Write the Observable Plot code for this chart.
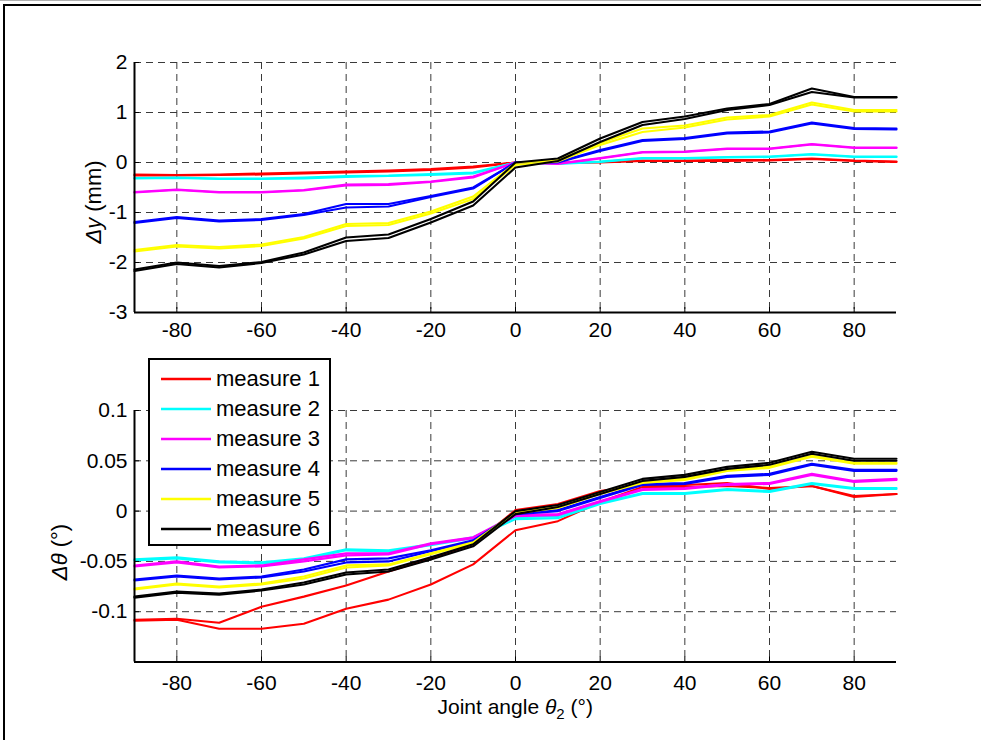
<!DOCTYPE html>
<html>
<head>
<meta charset="utf-8">
<script src="https://cdn.jsdelivr.net/npm/d3@7"></script>
<script src="https://cdn.jsdelivr.net/npm/@observablehq/plot@0.6"></script>
<style>
  html, body { margin: 0; padding: 0; background: #fff; width: 981px; height: 740px; overflow: hidden; }
  #root { position: relative; width: 981px; height: 740px; overflow: hidden; font-family: "Liberation Sans", Arial, sans-serif; }
  .abs { position: absolute; }
  #topline { left: 0; top: 0; width: 981px; height: 1px; background: #b0b0b0; }
  #frameTop { left: 3px; top: 4px; width: 978px; height: 2px; background: #000; }
  #frameLeft { left: 3px; top: 4px; width: 2px; height: 736px; background: #000; }
  .ylab { font-size: 22px; white-space: nowrap; transform-origin: center center; }
  #legend { left: 148px; top: 358px; width: 179px; height: 184px; border: 2px solid #000; background: #fff; }
  .lrow { position: absolute; left: 0; height: 30px; width: 179px; }
  .lrow svg { position: absolute; left: 10px; top: 0; }
  .lrow span { position: absolute; left: 66px; top: 2px; font-size: 22px; white-space: nowrap; }
</style>
</head>
<body>
<div id="root">
  <div id="topline" class="abs"></div>
  <div id="frameTop" class="abs"></div>
  <div id="frameLeft" class="abs"></div>
  <div id="topPlot" class="abs" style="left:0;top:0;"></div>
  <div id="botPlot" class="abs" style="left:0;top:350px;"></div>
  <div id="legend" class="abs"></div>
  <div id="ylabTop" class="abs ylab"><i>&Delta;y</i> (mm)</div>
  <div id="ylabBot" class="abs ylab"><i>&Delta;&theta;</i> (&deg;)</div>
  <div id="xlab" class="abs" style="font-size:21px;line-height:22px;white-space:nowrap;">Joint angle <i>&theta;</i><sub style="font-size:15px;">2</sub> (&deg;)</div>
</div>
<script>
// ---- data ----
const theta = [-90,-80,-70,-60,-50,-40,-30,-20,-10,0,10,20,30,40,50,60,70,80,90];
const measures = ["measure 1","measure 2","measure 3","measure 4","measure 5","measure 6"];
const colors = ["#ff0000","#00ffff","#ff00ff","#0000ff","#ffff00","#000000"];
const xTicks = [-80,-60,-40,-20,0,20,40,60,80];
const xDomain = [-90, 90];
const yTicksTop = [-3,-2,-1,0,1,2];
const yDomainTop = [-3, 2];
const yTicksBot = [-0.1,-0.05,0,0.05,0.1];
const yDomainBot = [-0.15, 0.1];

// Δy (mm), two runs per measure
const dy1a = [-0.26,-0.26,-0.25,-0.24,-0.22,-0.2,-0.18,-0.15,-0.1,0,-0.01,0,0.03,0.03,0.03,0.04,0.07,0.03,0.01];
const dy1b = [-0.24,-0.25,-0.24,-0.22,-0.2,-0.18,-0.16,-0.13,-0.08,0,0,0.01,0.04,0.04,0.05,0.05,0.08,0.04,0.02];
const dy2a = [-0.32,-0.31,-0.33,-0.33,-0.32,-0.29,-0.27,-0.25,-0.22,0,-0.03,0.01,0.08,0.08,0.1,0.11,0.16,0.11,0.11];
const dy2b = [-0.31,-0.3,-0.32,-0.32,-0.3,-0.27,-0.26,-0.23,-0.2,0,-0.02,0.02,0.09,0.09,0.11,0.12,0.17,0.12,0.12];
const dy3a = [-0.6,-0.55,-0.6,-0.6,-0.56,-0.46,-0.45,-0.39,-0.3,0,-0.03,0.08,0.2,0.21,0.27,0.27,0.36,0.29,0.29];
const dy3b = [-0.59,-0.54,-0.59,-0.59,-0.55,-0.44,-0.43,-0.38,-0.28,0,-0.02,0.09,0.21,0.22,0.28,0.28,0.37,0.3,0.3];
const dy4a = [-1.21,-1.11,-1.18,-1.15,-1.05,-0.9,-0.88,-0.69,-0.52,0,0,0.23,0.43,0.47,0.58,0.6,0.78,0.67,0.66];
const dy4b = [-1.19,-1.09,-1.16,-1.13,-1.03,-0.83,-0.83,-0.67,-0.5,0,0.01,0.25,0.45,0.49,0.6,0.62,0.8,0.69,0.68];
const dy5a = [-1.78,-1.68,-1.72,-1.67,-1.52,-1.27,-1.25,-1.02,-0.73,-0.05,0.02,0.35,0.61,0.7,0.86,0.92,1.16,1.02,1.02];
const dy5b = [-1.75,-1.65,-1.69,-1.64,-1.49,-1.23,-1.21,-0.98,-0.68,-0.01,0.05,0.39,0.68,0.74,0.9,0.95,1.2,1.05,1.05];
const dy6a = [-2.17,-2.03,-2.1,-2.01,-1.84,-1.57,-1.51,-1.2,-0.86,-0.1,0.03,0.41,0.75,0.87,1.05,1.15,1.41,1.3,1.3];
const dy6b = [-2.14,-2.0,-2.07,-1.99,-1.8,-1.5,-1.44,-1.13,-0.78,0,0.08,0.48,0.81,0.92,1.08,1.17,1.48,1.31,1.31];

// Δθ (°), two runs per measure
const dt1a = [-0.108,-0.107,-0.111,-0.095,-0.085,-0.074,-0.06,-0.047,-0.033,0.001,0.007,0.02,0.026,0.026,0.028,0.022,0.025,0.015,0.017];
const dt1b = [-0.109,-0.108,-0.117,-0.117,-0.112,-0.097,-0.088,-0.073,-0.053,-0.019,-0.01,0.009,0.024,0.024,0.025,0.023,0.025,0.014,0.017];
const dt2a = [-0.049,-0.047,-0.051,-0.052,-0.048,-0.039,-0.04,-0.034,-0.027,-0.008,-0.007,0.007,0.017,0.017,0.021,0.019,0.027,0.022,0.022];
const dt2b = [-0.048,-0.046,-0.05,-0.051,-0.047,-0.038,-0.039,-0.033,-0.026,-0.006,-0.005,0.008,0.018,0.018,0.022,0.02,0.028,0.023,0.023];
const dt3a = [-0.055,-0.051,-0.056,-0.055,-0.05,-0.044,-0.043,-0.033,-0.027,-0.005,-0.004,0.009,0.021,0.022,0.026,0.027,0.036,0.029,0.031];
const dt3b = [-0.054,-0.05,-0.055,-0.054,-0.048,-0.042,-0.042,-0.032,-0.026,-0.004,-0.003,0.01,0.022,0.023,0.027,0.028,0.037,0.03,0.032];
const dt4a = [-0.069,-0.065,-0.068,-0.066,-0.06,-0.051,-0.05,-0.04,-0.03,-0.003,0,0.013,0.026,0.027,0.034,0.036,0.046,0.04,0.04];
const dt4b = [-0.068,-0.064,-0.067,-0.065,-0.058,-0.048,-0.047,-0.039,-0.029,-0.002,0.001,0.014,0.027,0.028,0.035,0.037,0.047,0.041,0.041];
const dt5a = [-0.078,-0.073,-0.076,-0.073,-0.067,-0.056,-0.054,-0.043,-0.032,-0.002,0.003,0.017,0.028,0.031,0.04,0.043,0.054,0.047,0.047];
const dt5b = [-0.077,-0.072,-0.075,-0.072,-0.065,-0.054,-0.053,-0.042,-0.031,-0.001,0.004,0.018,0.029,0.032,0.041,0.044,0.055,0.048,0.048];
const dt6a = [-0.086,-0.081,-0.083,-0.079,-0.073,-0.063,-0.06,-0.048,-0.035,-0.003,0.004,0.017,0.03,0.034,0.042,0.046,0.057,0.05,0.05];
const dt6b = [-0.085,-0.08,-0.082,-0.078,-0.071,-0.061,-0.058,-0.046,-0.033,0,0.006,0.019,0.032,0.036,0.044,0.048,0.059,0.052,0.052];

const topSeries = [[dy1a,dy1b],[dy2a,dy2b],[dy3a,dy3b],[dy4a,dy4b],[dy5a,dy5b],[dy6a,dy6b]];
const botSeries = [[dt1a,dt1b],[dt2a,dt2b],[dt3a,dt3b],[dt4a,dt4b],[dt5a,dt5b],[dt6a,dt6b]];

function toRows(series) {
  const rows = [];
  series.forEach((runs, mi) => {
    runs.forEach((vals, ri) => {
      vals.forEach((v, i) => rows.push({theta: theta[i], value: v, measure: measures[mi], key: measures[mi] + "-" + ri}));
    });
  });
  return rows;
}

const FONT = "'Liberation Sans', Arial, sans-serif";
const gridStyle = {stroke: "#3a3a3a", strokeOpacity: 1, strokeWidth: 1, strokeDasharray: "7,5"};
const fmt = d => String(d);

function makePlot({rows, yDomain, yTicks, height, marginTop, marginBottom, xPad}) {
  return Plot.plot({
    width: 981, height, marginLeft: 134, marginRight: 85, marginTop, marginBottom,
    style: {fontFamily: FONT, fontSize: "21px", color: "#000", background: "transparent", overflow: "visible"},
    x: {domain: xDomain, label: null},
    y: {domain: yDomain, label: null},
    color: {domain: measures, range: colors},
    marks: [
      Plot.gridX(xTicks, gridStyle),
      Plot.gridY(yTicks, gridStyle),
      Plot.line(rows, {x: "theta", y: "value", z: "key", stroke: "measure", strokeWidth: 2.1, strokeLinejoin: "round"}),
      Plot.ruleX(xDomain.slice(0, 1), {stroke: "#000", strokeWidth: 2}),
      Plot.ruleY(yDomain.slice(0, 1), {stroke: "#000", strokeWidth: 2}),
      Plot.axisX(xTicks, {tickSize: -5, tickFormat: () => "", label: null, stroke: "#000"}),
      Plot.axisY(yTicks, {tickSize: -5, tickFormat: () => "", label: null, stroke: "#000"}),
      Plot.axisX(xTicks, {tickSize: 0, tickPadding: xPad, label: null, tickFormat: fmt}),
      Plot.axisY(yTicks, {tickSize: 0, tickPadding: 7, label: null, tickFormat: fmt})
    ]
  });
}

document.getElementById("topPlot").append(makePlot({
  rows: toRows(topSeries), yDomain: yDomainTop, yTicks: yTicksTop,
  height: 350, marginTop: 62, marginBottom: 38, xPad: 10
}));
document.getElementById("botPlot").append(makePlot({
  rows: toRows(botSeries), yDomain: yDomainBot, yTicks: yTicksBot,
  height: 390, marginTop: 60, marginBottom: 78.5, xPad: 13
}));

// legend
const legend = document.getElementById("legend");
measures.forEach((m, i) => {
  const row = document.createElement("div");
  row.className = "lrow";
  row.style.top = (4 + i * 30) + "px";
  row.innerHTML = `<svg width="52" height="30"><line x1="1" x2="51" y1="15" y2="15" stroke="${colors[i]}" stroke-width="2.6"/></svg><span>${m}</span>`;
  legend.append(row);
});

// axis labels positions
function placeRot(id, cx, cy) {
  const el = document.getElementById(id);
  const w = el.offsetWidth, h = el.offsetHeight;
  el.style.left = (cx - w / 2) + "px";
  el.style.top = (cy - h / 2) + "px";
  el.style.transform = "rotate(-90deg)";
}
placeRot("ylabTop", 93, 202);
placeRot("ylabBot", 60, 552);
const xl = document.getElementById("xlab");
xl.style.left = (515 - xl.offsetWidth / 2) + "px";
xl.style.top = (710 - xl.offsetHeight / 2) + "px";
</script>
</body>
</html>
